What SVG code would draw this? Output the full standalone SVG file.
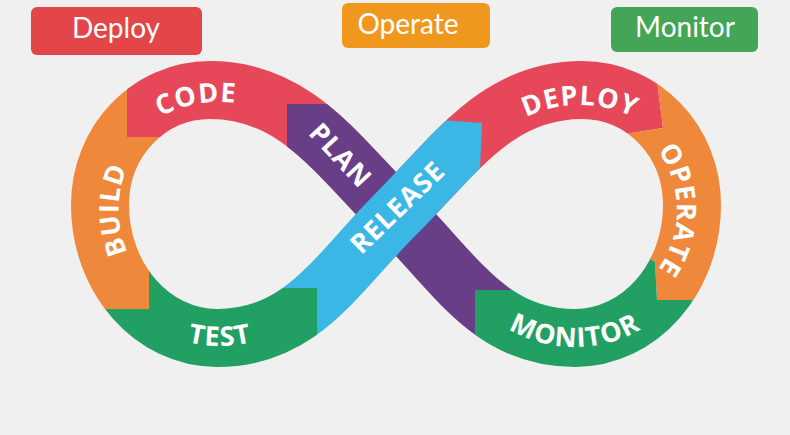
<svg xmlns="http://www.w3.org/2000/svg" width="790" height="435" viewBox="0 0 790 435">
<defs>
<style>
.band{fill:none;stroke-width:58;}
.lbl{font-family:"Open Sans","Noto Sans",sans-serif;font-weight:700;font-size:27px;fill:#ffffff;letter-spacing:1px;}
.tag{font-family:Lato,"Noto Sans",sans-serif;font-size:28px;fill:#ffffff;text-anchor:middle;}
.box{stroke:none;}
</style>
<path id="fig8" d="M396,214 C336,154 295,90 210,90 C149,90 100,141 100,205 C100,278 152,338 217,338 C302,338 336,274 396,214 C456,154 497,90 582,90 C643,90 692,141 692,205 C692,278 640,338 575,338 C490,338 456,274 396,214 Z"/>
<path id="planPath" d="M575,338 C490,338 456,274 396,214 C336,154 295,90 210,90"/>
<path id="relPath" d="M217,338 C302,338 336,274 396,214 C456,154 497,90 582,90"/>
<path id="pCode" d="M120,150 A128,128 0 0 1 320,150"/>
<path id="pBuild" d="M172,302 A106,106 0 0 1 172,118"/>
<path id="pTest" d="M120,299.6 A131,131 0 0 0 320,299.6"/>
<path id="pDeploy" d="M480,155 A125,125 0 0 1 680,155"/>
<path id="pOperate" d="M626,121.7 A102,102 0 0 1 626,298.3"/>
<path id="pMonitor" d="M465,288 A132,132 0 0 0 685,288"/>
<clipPath id="cRedL"><polygon points="127,0 396,0 396,214 215,214 180,137 127,137"/></clipPath>
<clipPath id="cOrL"><polygon points="0,0 127,0 127,137 180,137 215,214 149,265 149,309 0,309"/></clipPath>
<clipPath id="cGrL"><polygon points="0,309 149,309 149,265 215,214 250,288 317,288 317,435 0,435"/></clipPath>
<clipPath id="cRedR"><polygon points="396,0 650,0 652,40 663,128 600,138 577,214 396,214"/></clipPath>
<clipPath id="cOrR"><polygon points="650,0 790,0 790,300 657,300 655,262 620,240 577,214 600,138 663,128 652,40"/></clipPath>
<clipPath id="cGrR"><polygon points="790,300 790,435 475,435 475,290 540,290 577,214 620,240 655,262 657,300"/></clipPath>
<clipPath id="cPlan"><polygon points="287,104 790,104 790,290 475,290 475,435 287,435"/></clipPath>
<clipPath id="cRel"><polygon points="0,121 440,120 482,123 480,170 481,435 317,435 317,288 0,288"/></clipPath>
</defs>
<rect width="790" height="435" fill="#f0f0f0"/>

<g id="tag-deploy"><rect class="box" x="31" y="7" width="171" height="48" rx="6" fill="#e24648"/><text class="tag" x="116" y="38">Deploy</text></g>
<g id="tag-operate"><rect class="box" x="342" y="3" width="148" height="45" rx="6" fill="#f0981e"/><text class="tag" x="408" y="34">Operate</text></g>
<g id="tag-monitor"><rect class="box" x="611" y="7" width="147" height="45" rx="6" fill="#43a656"/><text class="tag" x="685" y="37">Monitor</text></g>

<g id="loop">
<g id="seg-code"><use href="#fig8" class="band" stroke="#e6485a" clip-path="url(#cRedL)"/><text class="lbl"><textPath href="#pCode" startOffset="40%" text-anchor="middle">CODE</textPath></text></g>
<g id="seg-build"><use href="#fig8" class="band" stroke="#ef883a" clip-path="url(#cOrL)"/><text class="lbl"><textPath href="#pBuild" startOffset="50%" text-anchor="middle">BUILD</textPath></text></g>
<g id="seg-test"><use href="#fig8" class="band" stroke="#22a064" clip-path="url(#cGrL)"/><text class="lbl"><textPath href="#pTest" startOffset="50%" text-anchor="middle">TEST</textPath></text></g>
<g id="seg-deploy"><use href="#fig8" class="band" stroke="#e6485a" clip-path="url(#cRedR)"/><text class="lbl"><textPath href="#pDeploy" startOffset="50%" text-anchor="middle">DEPLOY</textPath></text></g>
<g id="seg-operate"><use href="#fig8" class="band" stroke="#ef883a" clip-path="url(#cOrR)"/><text class="lbl"><textPath href="#pOperate" startOffset="50%" text-anchor="middle">OPERATE</textPath></text></g>
<g id="seg-monitor"><use href="#fig8" class="band" stroke="#22a064" clip-path="url(#cGrR)"/><text class="lbl"><textPath href="#pMonitor" startOffset="50%" text-anchor="middle">MONITOR</textPath></text></g>
<g id="seg-plan"><use href="#planPath" class="band" stroke="#683e87" clip-path="url(#cPlan)"/><text class="lbl" text-anchor="middle" transform="translate(341,155) rotate(47)" x="0" y="10">PLAN</text></g>
<g id="seg-release"><use href="#relPath" class="band" stroke="#3ab7e4" clip-path="url(#cRel)"/><text class="lbl" text-anchor="middle" transform="translate(397,207) rotate(-44)" x="0" y="10">RELEASE</text></g>
</g>
</svg>
